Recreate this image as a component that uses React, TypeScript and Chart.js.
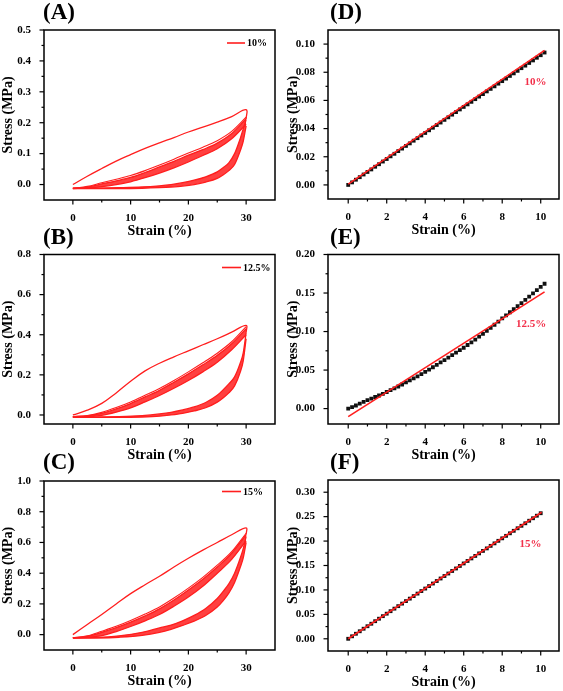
import React, { useEffect, useRef } from 'react';
import { Chart, registerables } from 'chart.js';
Chart.register(...registerables);

const FONT = "'Liberation Serif', 'Times New Roman', serif";
const RED = '#ff1e1e';
const NOTE_RED = '#f2304a';

// ---------- Cyclic loading data (left column) ----------
const strainFirst = [0, 2.5, 5, 7.5, 10, 12.5, 15, 17.5, 20, 22.5, 25, 27.5, 30, 30];
const strainLoad = [0, 2.5, 5, 7.5, 10, 12.5, 15, 17.5, 20, 22.5, 25, 27.5, 30];
const strainUnload = [0, 4, 8, 12, 15, 17, 19, 21, 23, 25, 26, 27, 28, 29, 29.5, 30];

// (A) 10%
const A_first = [0, 0.027, 0.052, 0.076, 0.097, 0.117, 0.135, 0.152, 0.17, 0.186, 0.202, 0.22, 0.242, 0.212];
const A_load0 = [-0.012, -0.006, 0.006, 0.017, 0.029, 0.045, 0.063, 0.082, 0.102, 0.121, 0.142, 0.172, 0.218];
const A_load1 = [-0.012, -0.008, 0.002, 0.012, 0.023, 0.039, 0.057, 0.075, 0.095, 0.113, 0.134, 0.165, 0.213];
const A_load2 = [-0.013, -0.011, -0.007, 0.0, 0.009, 0.022, 0.037, 0.054, 0.073, 0.094, 0.116, 0.148, 0.195];
const A_unload1 = [-0.012, -0.011, -0.01, -0.008, -0.004, 0.0, 0.006, 0.014, 0.025, 0.041, 0.054, 0.07, 0.1, 0.15, 0.18, 0.21];
const A_unload2 = [-0.013, -0.013, -0.013, -0.012, -0.01, -0.008, -0.005, 0.0, 0.008, 0.02, 0.031, 0.045, 0.065, 0.11, 0.14, 0.19];

// (B) 12.5%
const B_first = [0, 0.024, 0.058, 0.11, 0.168, 0.22, 0.258, 0.29, 0.32, 0.35, 0.38, 0.413, 0.447, 0.41];
const B_load0 = [-0.008, -0.003, 0.013, 0.037, 0.065, 0.098, 0.132, 0.172, 0.215, 0.26, 0.308, 0.365, 0.44];
const B_load1 = [-0.008, -0.005, 0.008, 0.03, 0.057, 0.09, 0.123, 0.163, 0.205, 0.25, 0.297, 0.355, 0.43];
const B_load2 = [-0.01, -0.008, -0.002, 0.014, 0.035, 0.065, 0.097, 0.133, 0.172, 0.215, 0.263, 0.325, 0.4];
const B_unload1 = [-0.01, -0.01, -0.008, -0.003, 0.005, 0.013, 0.025, 0.04, 0.062, 0.098, 0.125, 0.155, 0.19, 0.26, 0.31, 0.41];
const B_unload2 = [-0.012, -0.012, -0.012, -0.01, -0.006, 0.0, 0.008, 0.02, 0.036, 0.064, 0.085, 0.11, 0.145, 0.215, 0.27, 0.38];

// (C) 15%
const C_first = [0, 0.066, 0.131, 0.2, 0.267, 0.325, 0.38, 0.44, 0.497, 0.55, 0.6, 0.65, 0.695, 0.65];
const C_load0 = [-0.02, -0.008, 0.022, 0.054, 0.092, 0.134, 0.18, 0.238, 0.303, 0.373, 0.452, 0.54, 0.66];
const C_load1 = [-0.02, -0.012, 0.015, 0.045, 0.081, 0.122, 0.168, 0.225, 0.29, 0.36, 0.44, 0.53, 0.65];
const C_load2 = [-0.022, -0.018, -0.007, 0.02, 0.053, 0.09, 0.131, 0.185, 0.245, 0.315, 0.4, 0.49, 0.61];
const C_unload1 = [-0.02, -0.018, -0.008, 0.015, 0.044, 0.062, 0.09, 0.125, 0.17, 0.235, 0.28, 0.33, 0.4, 0.5, 0.56, 0.64];
const C_unload2 = [-0.023, -0.022, -0.017, -0.005, 0.015, 0.035, 0.06, 0.088, 0.125, 0.18, 0.22, 0.27, 0.34, 0.44, 0.5, 0.6];

// ---------- Linear region data (right column) ----------
const strainPts = [0, 0.2, 0.4, 0.6, 0.8, 1.0, 1.2, 1.4, 1.6, 1.8, 2.0, 2.2, 2.4, 2.6, 2.8, 3.0, 3.2, 3.4, 3.6, 3.8, 4.0, 4.2, 4.4, 4.6, 4.8, 5.0, 5.2, 5.4, 5.6, 5.8, 6.0, 6.2, 6.4, 6.6, 6.8, 7.0, 7.2, 7.4, 7.6, 7.8, 8.0, 8.2, 8.4, 8.6, 8.8, 9.0, 9.2, 9.4, 9.6, 9.8, 10.0, 10.2];
const strainPtsF = [0, 0.2, 0.4, 0.6, 0.8, 1.0, 1.2, 1.4, 1.6, 1.8, 2.0, 2.2, 2.4, 2.6, 2.8, 3.0, 3.2, 3.4, 3.6, 3.8, 4.0, 4.2, 4.4, 4.6, 4.8, 5.0, 5.2, 5.4, 5.6, 5.8, 6.0, 6.2, 6.4, 6.6, 6.8, 7.0, 7.2, 7.4, 7.6, 7.8, 8.0, 8.2, 8.4, 8.6, 8.8, 9.0, 9.2, 9.4, 9.6, 9.8, 10.0];
const D_stress = [0, 0.0018, 0.0037, 0.0055, 0.0074, 0.0092, 0.011, 0.0129, 0.0147, 0.0166, 0.0184, 0.0203, 0.0221, 0.024, 0.0258, 0.0277, 0.0295, 0.0314, 0.0332, 0.0351, 0.0369, 0.0388, 0.0406, 0.0425, 0.0443, 0.0462, 0.048, 0.0499, 0.0517, 0.0536, 0.0554, 0.0572, 0.059, 0.0609, 0.0627, 0.0645, 0.0664, 0.0682, 0.07, 0.0719, 0.0737, 0.0755, 0.0774, 0.0792, 0.081, 0.0829, 0.0847, 0.0866, 0.0884, 0.0903, 0.0921, 0.094];
const E_stress = [0, 0.002, 0.004, 0.0065, 0.0088, 0.011, 0.013, 0.015, 0.017, 0.019, 0.0215, 0.024, 0.0263, 0.0287, 0.0313, 0.034, 0.0366, 0.0392, 0.0419, 0.0447, 0.0476, 0.0506, 0.0537, 0.0568, 0.0599, 0.063, 0.0662, 0.0694, 0.0726, 0.0758, 0.079, 0.0825, 0.086, 0.0896, 0.0933, 0.097, 0.1009, 0.1048, 0.1088, 0.1129, 0.117, 0.121, 0.125, 0.129, 0.133, 0.137, 0.1412, 0.1454, 0.1496, 0.1538, 0.158, 0.162];
const F_stress = [0, 0.0051, 0.0103, 0.0154, 0.0206, 0.0257, 0.0308, 0.036, 0.0411, 0.0463, 0.0514, 0.0565, 0.0617, 0.0668, 0.072, 0.0771, 0.0822, 0.0874, 0.0925, 0.0977, 0.1028, 0.1079, 0.1131, 0.1182, 0.1234, 0.1285, 0.1336, 0.1388, 0.1439, 0.1491, 0.1542, 0.1593, 0.1645, 0.1696, 0.1748, 0.1799, 0.185, 0.1902, 0.1953, 0.2005, 0.2056, 0.2107, 0.2159, 0.221, 0.2262, 0.2313, 0.2364, 0.2416, 0.2467, 0.2519, 0.257];
const D_fitX = [0, 10.2];
const D_fitY = [0.0005, 0.0955];
const E_fitX = [0, 10.2];
const E_fitY = [-0.0105, 0.1515];
const F_fitX = [0, 10.05];
const F_fitY = [0, 0.259];

// ---------- Tick labels ----------
const cycXTicks = [0, 10, 20, 30];
const cycXMinor = [5, 15, 25];
const linXTicks = [0, 2, 4, 6, 8, 10];
const linXMinor = [1, 3, 5, 7, 9];
const A_yTicks = [0, 0.1, 0.2, 0.3, 0.4, 0.5];
const A_yMinor = [0.05, 0.15, 0.25, 0.35, 0.45];
const B_yTicks = [0, 0.2, 0.4, 0.6, 0.8];
const B_yMinor = [0.1, 0.3, 0.5, 0.7];
const C_yTicks = [0, 0.2, 0.4, 0.6, 0.8, 1.0];
const C_yMinor = [0.1, 0.3, 0.5, 0.7, 0.9];
const D_yTicks = [0, 0.02, 0.04, 0.06, 0.08, 0.1];
const D_yMinor = [0.01, 0.03, 0.05, 0.07, 0.09];
const E_yTicks = [0, 0.05, 0.1, 0.15, 0.2];
const E_yMinor = [0.025, 0.075, 0.125, 0.175];
const F_yTicks = [0, 0.05, 0.1, 0.15, 0.2, 0.25, 0.3];
const F_yMinor = [0.025, 0.075, 0.125, 0.175, 0.225, 0.275];

const zip = (xs: number[], ys: number[]) => xs.map((x, i) => ({ x, y: ys[i] }));

function cyclicDatasets(first: number[], l0: number[], l1: number[], l2: number[], u1: number[], u2: number[]) {
  const line = { borderColor: RED, borderWidth: 1.3, pointRadius: 0, fill: false };
  const band = { cubicInterpolationMode: 'monotone' as const };
  return [
    { ...line, data: zip(strainFirst, first), tension: 0.4 },
    { ...line, ...band, data: zip(strainLoad, l0), borderWidth: 1.1 },
    { ...line, ...band, data: zip(strainLoad, l1) },
    { ...line, ...band, data: zip(strainLoad, l2), fill: '-1', backgroundColor: 'rgba(255,30,30,0.85)' },
    { ...line, ...band, data: zip(strainUnload, u1) },
    { ...line, ...band, data: zip(strainUnload, u2), fill: '-1', backgroundColor: 'rgba(255,30,30,0.85)' },
  ];
}

function linearDatasets(fx: number[], fy: number[], px: number[], py: number[]) {
  return [
    { data: zip(fx, fy), borderColor: RED, borderWidth: 1.6, pointRadius: 0, showLine: true, fill: false },
    {
      data: zip(px, py), showLine: false, pointStyle: 'rect', pointRadius: 2.7,
      pointBackgroundColor: '#111', pointBorderColor: '#111', pointBorderWidth: 0,
    },
  ];
}

const decorPlugin = {
  id: 'decor',
  afterDraw(chart: any, _args: any, o: any) {
    const { ctx, chartArea: a, scales } = chart;
    const xs = scales.x, ys = scales.y;
    ctx.save();
    ctx.strokeStyle = '#000';
    ctx.lineWidth = 1.5;
    ctx.strokeRect(a.left, a.top, a.right - a.left, a.bottom - a.top);
    ctx.lineWidth = 1.2;
    const seg = (x1: number, y1: number, x2: number, y2: number) => {
      ctx.beginPath(); ctx.moveTo(x1, y1); ctx.lineTo(x2, y2); ctx.stroke();
    };
    o.xMajor.forEach((v: number) => { const p = xs.getPixelForValue(v); seg(p, a.bottom, p, a.bottom + 4.5); });
    o.xMinor.forEach((v: number) => { const p = xs.getPixelForValue(v); seg(p, a.bottom, p, a.bottom + 2.5); });
    o.yMajor.forEach((v: number) => { const p = ys.getPixelForValue(v); seg(a.left - 4.5, p, a.left, p); });
    o.yMinor.forEach((v: number) => { const p = ys.getPixelForValue(v); seg(a.left - 2.5, p, a.left, p); });

    ctx.fillStyle = '#000';
    ctx.textBaseline = 'middle';
    ctx.textAlign = 'left';
    ctx.font = `bold 23px ${FONT}`;
    ctx.fillText(o.letter, o.letterX - o.ox, o.letterY - o.oy);

    if (o.legend) {
      const L = o.legend;
      ctx.strokeStyle = RED;
      ctx.lineWidth = 1.6;
      seg(L.x1 - o.ox, L.y - o.oy, L.x2 - o.ox, L.y - o.oy);
      ctx.font = `bold 10px ${FONT}`;
      ctx.fillStyle = '#000';
      ctx.fillText(L.text, L.x2 + 2 - o.ox, L.y - o.oy + 0.5);
    }
    if (o.note) {
      const N = o.note;
      ctx.font = `bold 11px ${FONT}`;
      ctx.fillStyle = NOTE_RED;
      ctx.textAlign = 'center';
      ctx.fillText(N.text, N.x - o.ox, N.y - o.oy);
    }
    ctx.restore();
  },
};

type PanelSpec = {
  key: string; cx: number; cy: number; cw: number; ch: number;
  plot: { l: number; t: number; r: number; b: number };
  xMin: number; xMax: number; yMin: number; yMax: number;
  xTicks: number[]; xMinor: number[]; yTicks: number[]; yMinor: number[];
  yDec: number; letter: string; letterX: number; letterY: number;
  legend?: any; note?: any; datasets: any[];
};

const TITLE_HALF = 8.4;

const panels: PanelSpec[] = [
  {
    key: 'A', cx: 0, cy: 0, cw: 282, ch: 240, plot: { l: 44, t: 30, r: 275, b: 200 },
    xMin: -5, xMax: 35, yMin: -0.05, yMax: 0.5, xTicks: cycXTicks, xMinor: cycXMinor,
    yTicks: A_yTicks, yMinor: A_yMinor, yDec: 1, letter: '(A)', letterX: 43, letterY: 13,
    legend: { text: '10%', x1: 227, x2: 245, y: 43 },
    datasets: cyclicDatasets(A_first, A_load0, A_load1, A_load2, A_unload1, A_unload2),
  },
  {
    key: 'B', cx: 0, cy: 225, cw: 282, ch: 240, plot: { l: 44, t: 254.5, r: 275, b: 424 },
    xMin: -5, xMax: 35, yMin: -0.045, yMax: 0.8, xTicks: cycXTicks, xMinor: cycXMinor,
    yTicks: B_yTicks, yMinor: B_yMinor, yDec: 1, letter: '(B)', letterX: 43, letterY: 238,
    legend: { text: '12.5%', x1: 222, x2: 241, y: 267.5 },
    datasets: cyclicDatasets(B_first, B_load0, B_load1, B_load2, B_unload1, B_unload2),
  },
  {
    key: 'C', cx: 0, cy: 451, cw: 282, ch: 240, plot: { l: 44, t: 481, r: 275, b: 650 },
    xMin: -5, xMax: 35, yMin: -0.1, yMax: 1.0, xTicks: cycXTicks, xMinor: cycXMinor,
    yTicks: C_yTicks, yMinor: C_yMinor, yDec: 1, letter: '(C)', letterX: 43, letterY: 463,
    legend: { text: '15%', x1: 222, x2: 241, y: 491.5 },
    datasets: cyclicDatasets(C_first, C_load0, C_load1, C_load2, C_unload1, C_unload2),
  },
  {
    key: 'D', cx: 282, cy: 0, cw: 281, ch: 240, plot: { l: 328, t: 30, r: 560, b: 199 },
    xMin: -1.05, xMax: 10.95, yMin: -0.01, yMax: 0.11, xTicks: linXTicks, xMinor: linXMinor,
    yTicks: D_yTicks, yMinor: D_yMinor, yDec: 2, letter: '(D)', letterX: 330, letterY: 13,
    note: { text: '10%', x: 535.5, y: 82 },
    datasets: linearDatasets(D_fitX, D_fitY, strainPts, D_stress),
  },
  {
    key: 'E', cx: 282, cy: 225, cw: 281, ch: 240, plot: { l: 328, t: 254.5, r: 560, b: 424 },
    xMin: -1.05, xMax: 10.95, yMin: -0.02, yMax: 0.2, xTicks: linXTicks, xMinor: linXMinor,
    yTicks: E_yTicks, yMinor: E_yMinor, yDec: 2, letter: '(E)', letterX: 330, letterY: 238,
    note: { text: '12.5%', x: 531, y: 324 },
    datasets: linearDatasets(E_fitX, E_fitY, strainPts, E_stress),
  },
  {
    key: 'F', cx: 282, cy: 451, cw: 281, ch: 240, plot: { l: 328, t: 480, r: 560, b: 651 },
    xMin: -1.05, xMax: 10.95, yMin: -0.025, yMax: 0.325, xTicks: linXTicks, xMinor: linXMinor,
    yTicks: F_yTicks, yMinor: F_yMinor, yDec: 2, letter: '(F)', letterX: 330, letterY: 463,
    note: { text: '15%', x: 530.5, y: 544 },
    datasets: linearDatasets(F_fitX, F_fitY, strainPtsF, F_stress),
  },
];

function Panel({ spec }: { spec: PanelSpec }) {
  const ref = useRef<HTMLCanvasElement>(null);
  useEffect(() => {
    if (!ref.current) return;
    const s = spec;
    const padLeft = s.cx === 0 ? 0.1 : 2.6;
    const yWidth = s.plot.l - s.cx - padLeft;
    const padTop = s.plot.t - s.cy;
    const padRight = s.cx + s.cw - s.plot.r;
    const xHeight = 31 + TITLE_HALF;
    const padBottom = s.cy + s.ch - s.plot.b - xHeight;
    const tickFont = { family: FONT, size: 11, weight: 'bold' as const };
    const titleFont = { family: FONT, size: 14, weight: 'bold' as const };
    const chart = new Chart(ref.current, {
      type: 'line',
      data: { datasets: s.datasets as any },
      options: {
        animation: false,
        responsive: false,
        maintainAspectRatio: false,
        parsing: true,
        layout: { padding: { left: padLeft, top: padTop, right: padRight, bottom: padBottom } },
        plugins: {
          legend: { display: false },
          tooltip: { enabled: false },
          decor: {
            xMajor: s.xTicks, xMinor: s.xMinor, yMajor: s.yTicks, yMinor: s.yMinor,
            letter: s.letter, letterX: s.letterX, letterY: s.letterY,
            legend: s.legend, note: s.note, ox: s.cx, oy: s.cy,
          },
        } as any,
        scales: {
          x: {
            type: 'linear', min: s.xMin, max: s.xMax,
            grid: { display: false }, border: { display: false },
            afterBuildTicks: (sc: any) => { sc.ticks = s.xTicks.map((v) => ({ value: v })); },
            afterFit: (sc: any) => { sc.height = xHeight; },
            ticks: { font: tickFont, color: '#000', padding: 4, maxRotation: 0, autoSkip: false,
              callback: (v: any) => String(v) },
            title: { display: true, text: 'Strain (%)', font: titleFont, color: '#000', padding: 0 },
          },
          y: {
            type: 'linear', min: s.yMin, max: s.yMax,
            grid: { display: false }, border: { display: false },
            afterBuildTicks: (sc: any) => { sc.ticks = s.yTicks.map((v) => ({ value: v })); },
            afterFit: (sc: any) => { sc.width = yWidth; },
            ticks: { font: tickFont, color: '#000', padding: 5, autoSkip: false,
              callback: (v: any) => Number(v).toFixed(s.yDec) },
            title: { display: true, text: 'Stress (MPa)', font: titleFont, color: '#000', padding: 0 },
          },
        },
      },
      plugins: [decorPlugin as any],
    });
    return () => chart.destroy();
  }, [spec]);
  return (
    <canvas
      ref={ref}
      width={spec.cw}
      height={spec.ch}
      style={{ position: 'absolute', left: spec.cx, top: spec.cy, width: spec.cw, height: spec.ch }}
    />
  );
}

export default function App() {
  return (
    <div style={{ position: 'absolute', left: 0, top: 0, width: 563, height: 691, background: '#fff', overflow: 'hidden' }}>
      {panels.map((p) => <Panel key={p.key} spec={p} />)}
    </div>
  );
}
